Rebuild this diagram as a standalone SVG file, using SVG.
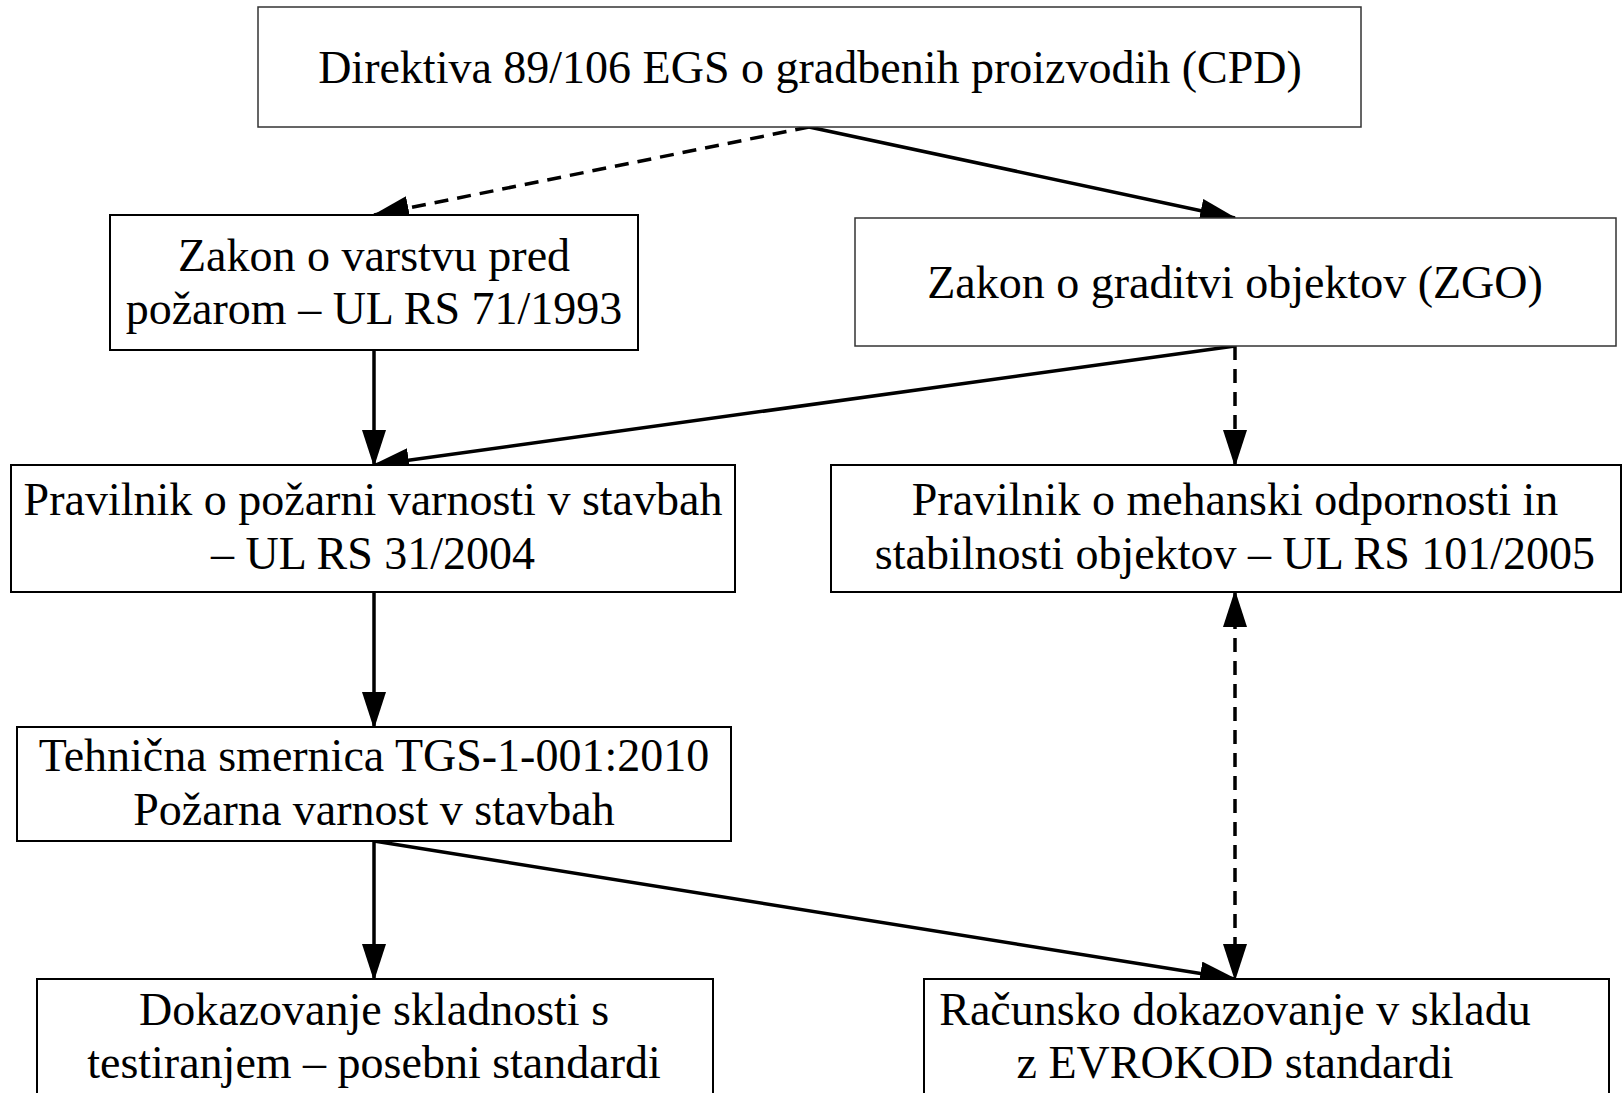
<svg xmlns="http://www.w3.org/2000/svg" width="1623" height="1093" viewBox="0 0 1623 1093">
<defs>
<style>
.box{fill:#fff;stroke:#000;stroke-width:2}
.thin{stroke:#333;stroke-width:1.5}
.t{font-family:"Liberation Serif","Times New Roman",serif;font-size:46px;fill:#000;text-anchor:middle}
.c{fill:none;stroke:#000;stroke-width:3.5}
.d{stroke-dasharray:14 9}
</style>
<marker id="ah" viewBox="0 0 37 24" refX="35" refY="12" markerWidth="37" markerHeight="24" markerUnits="userSpaceOnUse" orient="auto-start-reverse">
<path d="M0,0 L37,12 L0,24 Z" fill="#000"/>
</marker>
</defs>
<rect width="1623" height="1093" fill="#fff"/>
<g id="connectors">
<line class="c d" x1="809" y1="127" x2="374" y2="215" marker-end="url(#ah)"/>
<line class="c" x1="809" y1="127" x2="1235" y2="218" marker-end="url(#ah)"/>
<line class="c" x1="374" y1="350" x2="374" y2="465" marker-end="url(#ah)"/>
<line class="c" x1="1235" y1="346" x2="374" y2="465" marker-end="url(#ah)"/>
<line class="c d" x1="1235" y1="346" x2="1235" y2="465" marker-end="url(#ah)"/>
<line class="c" x1="374" y1="592" x2="374" y2="727" marker-end="url(#ah)"/>
<line class="c" x1="374" y1="841" x2="374" y2="979" marker-end="url(#ah)"/>
<line class="c" x1="374" y1="841" x2="1235" y2="979" marker-end="url(#ah)"/>
<line class="c d" x1="1235" y1="592" x2="1235" y2="979" marker-start="url(#ah)" marker-end="url(#ah)"/>
</g>
<g id="n-cpd">
<rect class="box thin" x="258" y="7" width="1103" height="120"/>
<text class="t" x="810" y="83">Direktiva 89/106 EGS o gradbenih proizvodih (CPD)</text>
</g>
<g id="n-zvpp">
<rect class="box" x="110" y="215" width="528" height="135"/>
<text class="t" x="374" y="271">Zakon o varstvu pred</text>
<text class="t" x="374" y="324">požarom – UL RS 71/1993</text>
</g>
<g id="n-zgo">
<rect class="box thin" x="855" y="218" width="761" height="128"/>
<text class="t" x="1235" y="298">Zakon o graditvi objektov (ZGO)</text>
</g>
<g id="n-ppv">
<rect class="box" x="11" y="465" width="724" height="127"/>
<text class="t" x="373" y="515">Pravilnik o požarni varnosti v stavbah</text>
<text class="t" x="373" y="569">– UL RS 31/2004</text>
</g>
<g id="n-pmo">
<rect class="box" x="831" y="465" width="790" height="127"/>
<text class="t" x="1235" y="515">Pravilnik o mehanski odpornosti in</text>
<text class="t" x="1235" y="569">stabilnosti objektov – UL RS 101/2005</text>
</g>
<g id="n-tgs">
<rect class="box" x="17" y="727" width="714" height="114"/>
<text class="t" x="374" y="771">Tehnična smernica TGS-1-001:2010</text>
<text class="t" x="374" y="825">Požarna varnost v stavbah</text>
</g>
<g id="n-test">
<rect class="box" x="37" y="979" width="676" height="130"/>
<text class="t" x="374" y="1025">Dokazovanje skladnosti s</text>
<text class="t" x="374" y="1078">testiranjem – posebni standardi</text>
</g>
<g id="n-evro">
<rect class="box" x="924" y="979" width="685" height="130"/>
<text class="t" x="1235" y="1025">Računsko dokazovanje v skladu</text>
<text class="t" x="1235" y="1078">z EVROKOD standardi</text>
</g>
</svg>
